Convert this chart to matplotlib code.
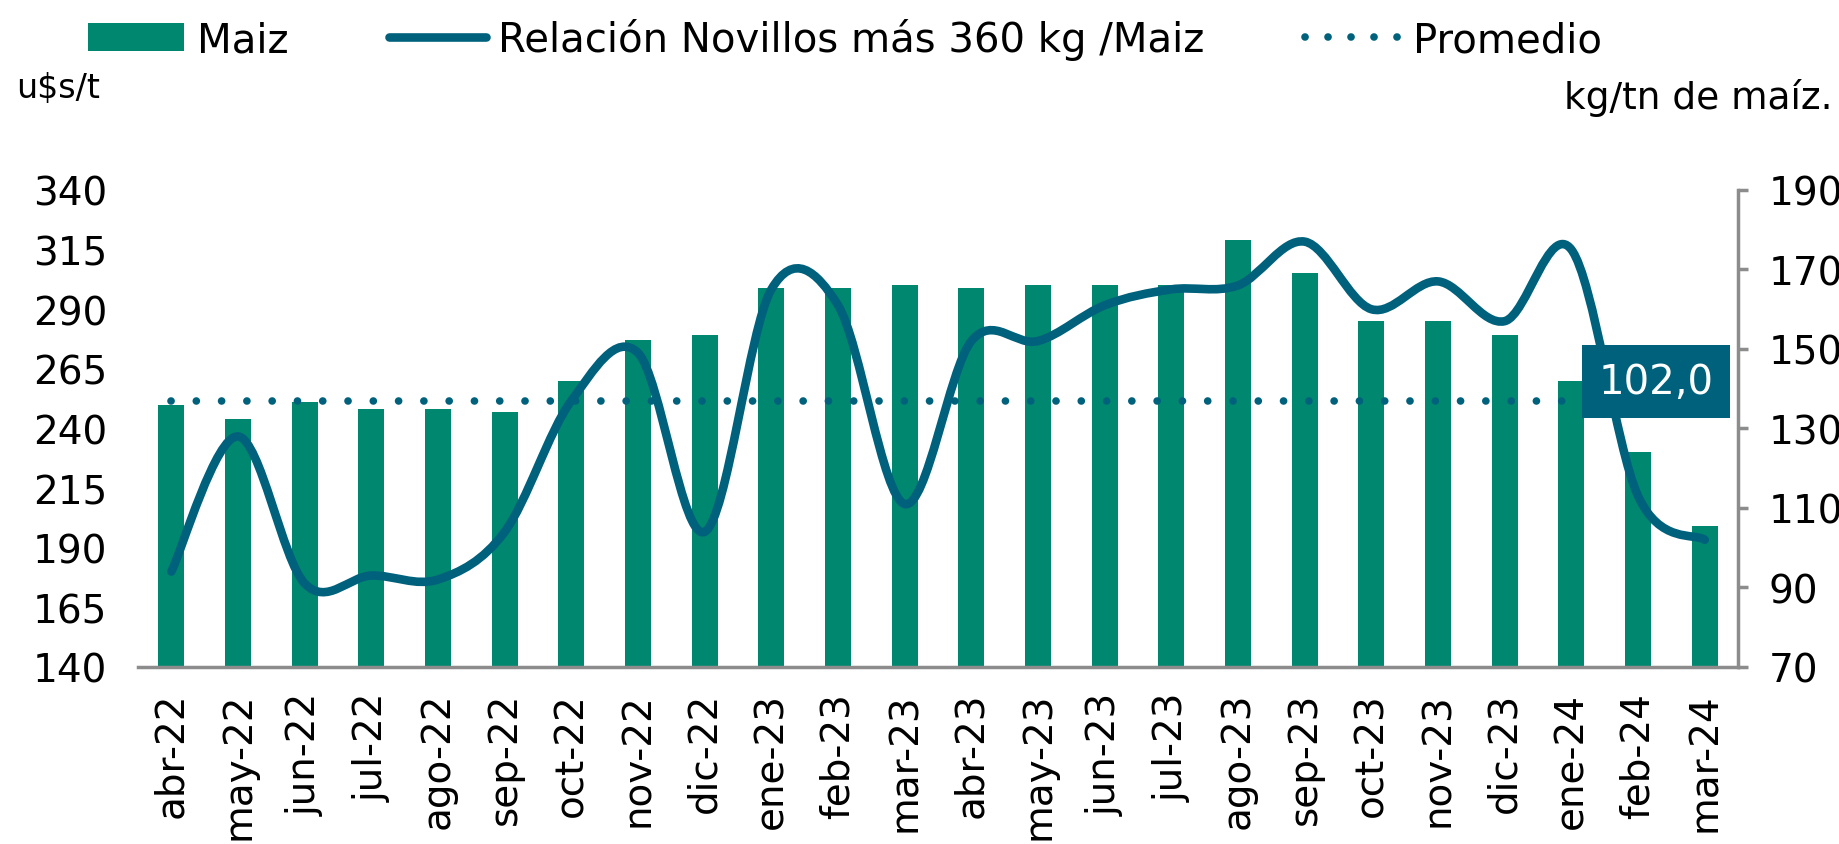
import matplotlib
matplotlib.use("Agg")
import matplotlib.pyplot as plt
import numpy as np
from matplotlib.path import Path
from matplotlib.patches import PathPatch, Patch
from matplotlib.lines import Line2D

plt.rcParams["font.family"] = ["DejaVu Sans"]

months = ["abr-22", "may-22", "jun-22", "jul-22", "ago-22", "sep-22", "oct-22", "nov-22",
          "dic-22", "ene-23", "feb-23", "mar-23", "abr-23", "may-23", "jun-23", "jul-23",
          "ago-23", "sep-23", "oct-23", "nov-23", "dic-23", "ene-24", "feb-24", "mar-24"]
maiz = [250, 244, 251, 248, 248, 247, 260, 277, 279, 299, 299, 300,
        299, 300, 300, 300, 319, 305, 285, 285, 279, 260, 230, 199]
relacion = [94, 128, 91, 93, 92, 104, 137, 149, 104, 165, 161, 111,
            152, 152, 161, 165, 166, 177, 160, 167, 157, 175, 113, 102]
promedio = 137.0

BAR_COLOR = "#00876F"
LINE_COLOR = "#00617C"
SPINE_COLOR = "#8C8C8C"
FS = 28


def smooth_path(x, y):
    # Excel-like smoothed line: Catmull-Rom segments as cubic Beziers
    pts = np.column_stack([x, y]).astype(float)
    p = np.vstack([pts[0], pts, pts[-1]])
    verts = [tuple(pts[0])]
    codes = [Path.MOVETO]
    for i in range(1, len(p) - 2):
        c1 = p[i] + (p[i + 1] - p[i - 1]) / 6.0
        c2 = p[i + 1] - (p[i + 2] - p[i]) / 6.0
        verts += [tuple(c1), tuple(c2), tuple(p[i + 1])]
        codes += [Path.CURVE4] * 3
    return Path(verts, codes)


fig = plt.figure(figsize=(18.4, 8.45), dpi=100)
ax = fig.add_axes([0.075, 0.2095, 0.8696, 0.5645])
ax2 = ax.twinx()

x = np.arange(len(months))
ax.bar(x, maiz, width=0.39, color=BAR_COLOR, zorder=2)
ax.set_ylim(140, 340)
ax.set_yticks(np.arange(140, 341, 25))
ax.set_xlim(-0.5, len(months) - 0.5)
ax.set_xticks(x)
ax.set_xticklabels(months, rotation=90, fontsize=FS)
ax.tick_params(axis="x", length=0, pad=18)
ax.tick_params(axis="y", length=0, labelsize=FS, pad=22)
for s in ["top", "right", "left"]:
    ax.spines[s].set_visible(False)
ax.spines["bottom"].set_color(SPINE_COLOR)
ax.spines["bottom"].set_linewidth(2.5)

ax2.set_ylim(70, 190)
ax2.set_yticks(np.arange(70, 191, 20))
ax2.tick_params(axis="y", length=7, width=2.5, color=SPINE_COLOR, labelsize=FS, pad=15)
for s in ["top", "left", "bottom"]:
    ax2.spines[s].set_visible(False)
ax2.spines["right"].set_color(SPINE_COLOR)
ax2.spines["right"].set_linewidth(2.5)

ax2.plot(x, [promedio] * len(x), color=LINE_COLOR, lw=5.5,
         linestyle=(0, (0.01, 3.3)), dash_capstyle="round", zorder=3)
ax2.add_patch(PathPatch(smooth_path(x, relacion), facecolor="none", edgecolor=LINE_COLOR,
                        lw=6.2, capstyle="round", joinstyle="round", zorder=4))

ax2.text(22.27, 141.8, "102,0", color="white", fontsize=FS + 1, ha="center", va="center",
         zorder=5, bbox=dict(boxstyle="square,pad=0.4", facecolor=LINE_COLOR, edgecolor="none"))

fig.text(0.009, 0.895, "u$s/t", fontsize=24, ha="left", va="center")
fig.text(0.996, 0.884, "kg/tn de maíz.", fontsize=FS - 1, ha="right", va="center")

handles = [Patch(facecolor=BAR_COLOR),
           Line2D([0], [0], color=LINE_COLOR, lw=6.2, solid_capstyle="round"),
           Line2D([0], [0], color=LINE_COLOR, lw=5.5, linestyle=(0, (0.01, 3.0)),
                  dash_capstyle="round")]
labels = ["Maiz", "Relación Novillos más 360 kg /Maiz", "Promedio"]
fig.legend(handles, labels, loc="upper left", bbox_to_anchor=(0.028, 1.02), ncol=3,
           frameon=False, fontsize=FS + 1, handlelength=2.4, handletextpad=0.3,
           columnspacing=2.5)

fig.savefig("out.png", dpi=100)
